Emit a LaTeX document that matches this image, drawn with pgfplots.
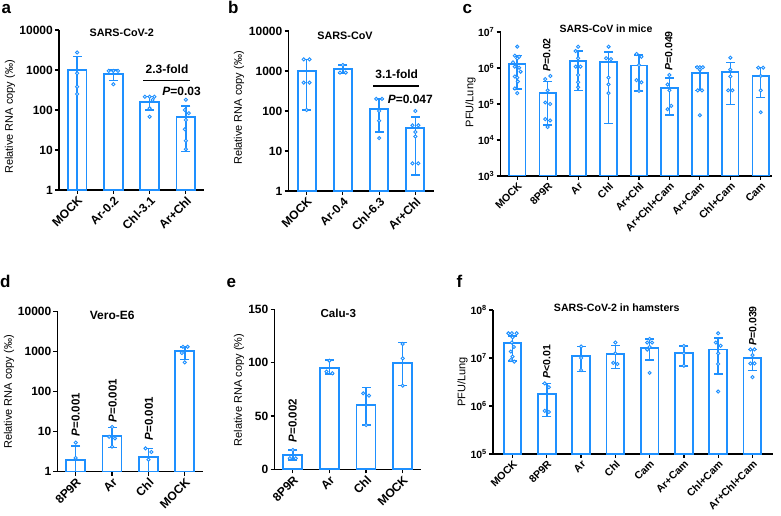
\documentclass[border=0pt]{standalone}
\usepackage{fontspec}
\setmainfont{Liberation Sans}
\usepackage{pgfplots}
\pgfplotsset{compat=1.18}
\definecolor{gb}{RGB}{30,144,255}
\newcommand\fs[1]{\fontsize{#1}{#1}\selectfont}
\pgfplotsset{
  gp/.style={scale only axis, anchor=south west, axis lines=left,
    axis line style={-, line width=1.4pt, black},
    tick align=outside, major tick length=4pt,
    tick style={line width=1.2pt, black},
    yminorticks=false, xminorticks=false,
    clip mode=individual, unbounded coords=jump,
    xticklabel style={rotate=45, anchor=north east, inner sep=1pt},
    yticklabel style={inner sep=2pt},
    tick label style={font=\fs{12}\bfseries},
  },
  gbar/.style={ybar, bar width=#1, bar shift=0pt, draw=gb, fill=white, line width=1.8pt},
  gerr/.style={gb, line width=1.5pt, mark=-, mark size=4.5pt, mark options={solid, line width=1.5pt}},
  gpt/.style={only marks, mark=*, mark size=1.6pt, mark options={draw=gb, fill=white, line width=0.9pt}},
}
\begin{document}
\begin{tikzpicture}
\path[use as bounding box] (0pt,0pt) rectangle (781pt,515pt);

% ---------------- a ----------------
\begin{axis}[gp, at={(59pt,325pt)}, width=145pt, height=160pt,
  ymode=log, log origin=infty, ymin=1, ymax=10000,
  ytick={1,10,100,1000,10000}, yticklabels={1,10,100,1000,10000},
  xmin=-0.5, xmax=3.5, xtick={0,1,2,3}, xticklabels={MOCK,Ar-0.2,Chl-3.1,Ar+Chl}]
\addplot[gbar=18.7pt] coordinates {(0,1000) (1,790) (2,160) (3,68)};
\addplot[gerr] coordinates {(0,0.5)(0,2150)(0,nan)(1,540)(1,1000)(1,nan)(2,100)(2,215)(2,nan)(3,9.1)(3,126)};
\addplot[gpt] coordinates {(0,2750)(0,830)(0,380)(0,250) (0.87,950)(1,950)(1.13,950)(1,440) (1.87,215)(2,215)(2.13,215)(2.08,178)(2,110)(2,68) (3,180)(2.97,100)(3.08,83)(3,56)(2.97,33)(3,17)(3,10.5)};
\end{axis}

% ---------------- b ----------------
\begin{axis}[gp, at={(288.5pt,324pt)}, width=145pt, height=160pt,
  ymode=log, log origin=infty, ymin=1, ymax=10000,
  ytick={1,10,100,1000,10000}, yticklabels={1,10,100,1000,10000},
  xmin=-0.5, xmax=3.5, xtick={0,1,2,3}, xticklabels={MOCK,Ar-0.4,Chl-6.3,Ar+Chl}]
\addplot[gbar=18pt] coordinates {(0,1000) (1,1100) (2,110) (3,37)};
\addplot[gerr] coordinates {(0,106)(0,1960)(0,nan)(1,870)(1,1410)(1,nan)(2,30)(2,200)(2,nan)(3,2.5)(3,70)};
\addplot[gpt] coordinates {(-0.08,1950)(0.08,1950)(-0.08,510)(0.08,510)(0,106) (1,1410)(0.92,910)(1.08,910) (1.92,200)(2.08,200)(2,100)(2,57)(2,21) (3,100)(2.92,44)(3.08,44)(3,30)(3,23)(2.92,4.9)(3.08,4.9)};
\end{axis}

% ---------------- c ----------------
\begin{axis}[gp, at={(500.5pt,339pt)}, width=271.5pt, height=144pt,
  tick label style={font=\fs{10.5}\bfseries},
  ymode=log, log origin=infty, ymin=1000, ymax=10000000,
  ytick={1000,10000,100000,1000000,10000000},
  yticklabels={10\textsuperscript{3},10\textsuperscript{4},10\textsuperscript{5},10\textsuperscript{6},10\textsuperscript{7}},
  xmin=-0.55, xmax=8.37, xtick={0,...,8},
  xticklabels={MOCK,8P9R,Ar,Chl,Ar+Chl,Ar+Chl+Cam,Ar+Cam,Chl+Cam,Cam}]
\addplot[gbar=16.5pt] coordinates {(0,1.29e6)(1,2.07e5)(2,1.59e6)(3,1.47e6)(4,1.18e6)(5,2.8e5)(6,7.1e5)(7,7.7e5)(8,6.0e5)};
\addplot[gerr] coordinates {(0,2.6e5)(0,2.2e6)(0,nan)(1,2.6e4)(1,4.2e5)(1,nan)(2,2.4e5)(2,2.96e6)(2,nan)(3,2.9e4)(3,2.8e6)(3,nan)(4,2.3e5)(4,2.3e6)(4,nan)(5,4.9e4)(5,5.2e5)(5,nan)(6,2.4e5)(6,1.05e6)(6,nan)(7,9.8e4)(7,1.4e6)(7,nan)(8,1.5e5)(8,1.02e6)};
\addplot[gpt] coordinates {(0,3.9e6)(-0.08,2.2e6)(0.06,2.05e6)(0,1.86e6)(-0.14,1.44e6)(-0.08,1.09e6)(0.06,1.02e6)(0.11,7.9e5)(-0.08,5.8e5)(0,5.4e5)(0.02,4.2e5)(-0.08,2.7e5)(0,2.0e5)
(1.09,6.0e5)(0.92,4.9e5)(1,2.4e5)(0.92,1.1e5)(1.08,1.0e5)(0.92,3.8e4)(1.08,3.5e4)(1,2.3e4)
(2,3.9e6)(1.92,2.96e6)(2,1.86e6)(1.92,1.09e6)(2.08,1.09e6)(2,6.4e5)(2,4.0e5)(2,2.9e5)
(3,3.9e6)(2.92,1.86e6)(3.08,1.76e6)(3,5.4e5)(3,3.5e5)(3,2.0e5)
(3.92,2.45e6)(4.08,2.05e6)(4,1.2e6)(3.92,4.6e5)(4.08,4.0e5)(4,2.3e5)
(5,6.4e5)(4.94,3.5e5)(5,2.4e5)(5.06,8.9e4)(4.94,7.2e4)
(5.91,1.05e6)(6,1.05e6)(6.1,1.05e6)(6,9e5)(5.93,2.4e5)(6.07,2.4e5)(6,4.9e4)
(7,1.93e6)(7,9e5)(7,5.8e5)(6.93,2.4e5)(7.07,2.4e5)
(7.92,1.02e6)(8.08,1.02e6)(8,6e5)(8,2.4e5)(8,5.9e4)};
\end{axis}

% ---------------- d ----------------
\begin{axis}[gp, at={(57.5pt,43.3pt)}, width=145.5pt, height=160.5pt,
  ymode=log, log origin=infty, ymin=1, ymax=10000,
  ytick={1,10,100,1000,10000}, yticklabels={1,10,100,1000,10000},
  xmin=-0.5, xmax=3.5, xtick={0,1,2,3}, xticklabels={8P9R,Ar,Chl,MOCK}]
\addplot[gbar=19pt] coordinates {(0,1.95)(1,7.7)(2,2.36)(3,1000)};
\addplot[gerr] coordinates {(0,0.5)(0,4.4)(0,nan)(1,4.0)(1,12.7)(1,nan)(2,0.5)(2,3.8)(2,nan)(3,630)(3,1290)};
\addplot[gpt] coordinates {(0,5.3)(0,2.2) (1,13)(0.92,7.4)(1.08,6.8)(1,4.2) (1.92,3.8)(2.08,3.1)(2,2.0) (2.95,1300)(3.08,1300)(2.92,910)(3,530)};
\end{axis}

% ---------------- e ----------------
\begin{axis}[gp, at={(274.5pt,45.7pt)}, width=146.5pt, height=160pt,
  ymin=0, ymax=150, ytick={0,50,100,150}, yticklabels={0,50,100,150},
  xmin=-0.5, xmax=3.5, xtick={0,1,2,3}, xticklabels={8P9R,Ar,Chl,MOCK}]
\addplot[gbar=19pt] coordinates {(0,13.1)(1,94.7)(2,60.3)(3,100)};
\addplot[gerr] coordinates {(0,8.6)(0,18.1)(0,nan)(1,89.3)(1,102.5)(1,nan)(2,41.5)(2,76.9)(2,nan)(3,78.4)(3,118.7)};
\addplot[gpt] coordinates {(0,18.1)(-0.08,10.3)(0.08,10.3) (1,101.8)(0.92,91.5)(1.08,90) (1.92,71.2)(2.08,69)(2,41.5) (3,117.5)(3,104)(3,78.4)};
\end{axis}

% ---------------- f ----------------
\begin{axis}[gp, at={(493pt,61pt)}, width=280pt, height=144pt,
  tick label style={font=\fs{10.5}\bfseries},
  ymode=log, log origin=infty, ymin=100000, ymax=100000000,
  ytick={100000,1000000,10000000,100000000},
  yticklabels={10\textsuperscript{5},10\textsuperscript{6},10\textsuperscript{7},10\textsuperscript{8}},
  xmin=-0.57, xmax=7.6, xtick={0,...,7},
  xticklabels={MOCK,8P9R,Ar,Chl,Cam,Ar+Cam,Chl+Cam,Ar+Chl+Cam}]
\addplot[gbar=17.7pt] coordinates {(0,2.03e7)(1,1.75e6)(2,1.1e7)(3,1.2e7)(4,1.64e7)(5,1.26e7)(6,1.51e7)(7,1.0e7)};
\addplot[gerr] coordinates {(0,8.7e6)(0,2.9e7)(0,nan)(1,6.0e5)(1,2.96e6)(1,nan)(2,5.2e6)(2,1.74e7)(2,nan)(3,6.1e6)(3,1.8e7)(3,nan)(4,9.1e6)(4,2.5e7)(4,nan)(5,6.8e6)(5,1.78e7)(5,nan)(6,4.6e6)(6,2.6e7)(6,nan)(7,5.5e6)(7,1.51e7)};
\addplot[gpt] coordinates {(-0.12,3.27e7)(-0.02,3.27e7)(0.12,3.27e7)(0,2.7e7)(-0.02,2.1e7)(0.04,1.7e7)(-0.05,1.36e7)(0,1.07e7)(-0.05,9.1e6)(0.05,8.4e6)
(0.94,2.96e6)(1.06,2.46e6)(0.94,7.9e5)(1.06,7.5e5)
(2,1.74e7)(2,1.0e7)(2,5.6e6)
(3,2.1e7)(3,1.25e7)(2.94,7.9e6)(3.06,7.5e6)
(4,2.5e7)(3.93,2.1e7)(4.07,2.1e7)(4,1.7e7)(3.93,1.5e7)(4,4.9e6)
(5,1.78e7)(5,1.25e7)(5,6.9e6)
(6,3.27e7)(5.93,2.1e7)(6.07,1.8e7)(6,1.25e7)(6,7.5e6)(6,2.0e6)
(6.94,1.51e7)(7.06,1.51e7)(7,1.15e7)(6.94,7.7e6)(7.06,7.7e6)(7,4.0e6)};
\end{axis}

% ---------------- text ----------------
\begin{scope}[every node/.style={inner sep=0pt}]
% panel letters
\node[anchor=base west, font=\fs{17}\bfseries] at (1.5pt,501pt) {a};
\node[anchor=base west, font=\fs{17}\bfseries] at (228pt,501pt) {b};
\node[anchor=base west, font=\fs{17}\bfseries] at (462.5pt,501pt) {c};
\node[anchor=base west, font=\fs{17}\bfseries] at (0pt,228pt) {d};
\node[anchor=base west, font=\fs{17}\bfseries] at (226.5pt,228pt) {e};
\node[anchor=base west, font=\fs{17}\bfseries] at (456.5pt,228pt) {f};
% titles
\node[anchor=base, font=\fs{10.8}\bfseries] at (121.8pt,478.3pt) {SARS-CoV-2};
\node[anchor=base, font=\fs{10.8}\bfseries] at (345pt,475pt) {SARS-CoV};
\node[anchor=base, font=\fs{10.5}\bfseries] at (606pt,482.5pt) {SARS-CoV in mice};
\node[anchor=base, font=\fs{12}\bfseries] at (112.2pt,195.7pt) {Vero-E6};
\node[anchor=base, font=\fs{11.6}\bfseries] at (338.3pt,197.7pt) {Calu-3};
\node[anchor=base, font=\fs{10.6}\bfseries] at (616.7pt,203.3pt) {SARS-CoV-2 in hamsters};
% y labels
\node[rotate=90, font=\fs{11}] at (10pt,398pt) {Relative RNA copy (‰)};
\node[rotate=90, font=\fs{11}] at (239pt,407pt) {Relative RNA copy (‰)};
\node[rotate=90, font=\fs{11}] at (470.5pt,412.5pt) {PFU/Lung};
\node[rotate=90, font=\fs{11}] at (9pt,123pt) {Relative RNA copy (‰)};
\node[rotate=90, font=\fs{11}] at (239pt,125pt) {Relative RNA copy (\%)};
\node[rotate=90, font=\fs{11}] at (462.5pt,133pt) {PFU/Lung};
% annotations a, b
\node[anchor=base, font=\fs{12}\bfseries] at (167pt,441pt) {2.3-fold};
\draw[line width=1.2pt] (143.3pt,434.3pt) -- (190pt,434.3pt);
\node[anchor=base, font=\fs{12}\bfseries] at (181.5pt,419pt) {\textit{P}=0.03};
\node[anchor=base, font=\fs{12}\bfseries] at (396.7pt,436.3pt) {3.1-fold};
\draw[line width=1.2pt] (373.3pt,429pt) -- (419.3pt,429pt);
\node[anchor=base, font=\fs{12}\bfseries] at (410.3pt,411pt) {\textit{P}=0.047};
% rotated p-values
\node[rotate=90, font=\fs{10.5}\bfseries] at (546.7pt,460pt) {\textit{P}=0.02};
\node[rotate=90, font=\fs{10.5}\bfseries] at (668.7pt,464pt) {\textit{P}=0.049};
\node[rotate=90, font=\fs{11.5}\bfseries] at (75.7pt,100.3pt) {\textit{P}=0.001};
\node[rotate=90, font=\fs{11.5}\bfseries] at (112.7pt,114.5pt) {\textit{P}=0.001};
\node[rotate=90, font=\fs{11.5}\bfseries] at (149pt,96.3pt) {\textit{P}=0.001};
\node[rotate=90, font=\fs{11.5}\bfseries] at (292.7pt,94.5pt) {\textit{P}=0.002};
\node[rotate=90, font=\fs{10.5}\bfseries] at (546.7pt,153.3pt) {\textit{P}<0.01};
\node[rotate=90, font=\fs{10.5}\bfseries] at (752.7pt,189pt) {\textit{P}=0.039};
\end{scope}
\end{tikzpicture}
\end{document}
